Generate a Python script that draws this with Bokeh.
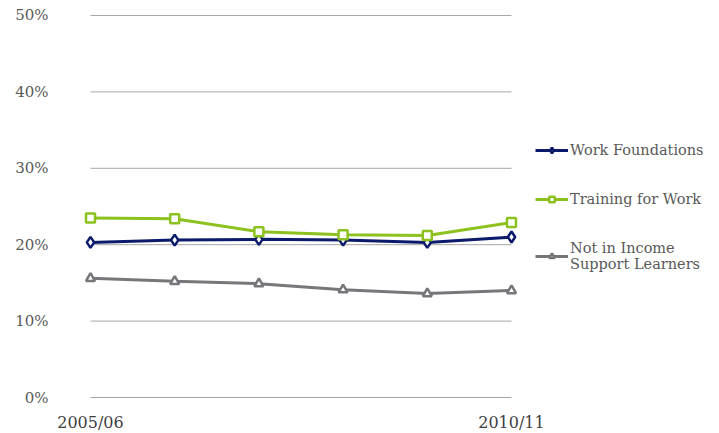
from bokeh.plotting import figure
from bokeh.models import Range1d, FixedTicker, PrintfTickFormatter, Legend, LegendItem
from bokeh.embed import file_html
from bokeh.resources import INLINE

years = ["2005/06", "2006/07", "2007/08", "2008/09", "2009/10", "2010/11"]
work_foundations = [20.3, 20.6, 20.7, 20.6, 20.3, 21.0]
training_for_work = [23.5, 23.4, 21.7, 21.3, 21.2, 22.9]
not_in_income_support = [15.6, 15.2, 14.9, 14.1, 13.6, 14.0]
y_ticks = [0, 10, 20, 30, 40, 50]

xs = list(range(len(years)))
n = len(years) - 1
FONT = "DejaVu Serif"
TXT = "#595959"

# frame extends to the right so the legend sits inside it; gridlines are drawn
# only across the span of years
p = figure(frame_width=620, frame_height=398, min_border_left=83, min_border_top=7,
           min_border_bottom=24, min_border_right=0,
           x_range=Range1d(-0.0831, -0.0831 + 620 / 84.2), y_range=Range1d(-1.047, 51.047),
           output_backend="svg", toolbar_location=None)
p.outline_line_color = None
p.background_fill_color = "white"
p.xgrid.visible = False
p.ygrid.visible = False

p.segment(x0=[0] * len(y_ticks), x1=[n] * len(y_ticks), y0=y_ticks, y1=y_ticks,
          line_color="#a6a6a6", line_width=1)

for ax in (p.xaxis, p.yaxis):
    ax.axis_line_color = None
    ax.major_tick_line_color = None
    ax.minor_tick_line_color = None
    ax.major_tick_out = 0
    ax.major_tick_in = 0
    ax.minor_tick_out = 0
    ax.major_label_text_font = FONT

p.yaxis.ticker = FixedTicker(ticks=y_ticks)
p.yaxis.formatter = PrintfTickFormatter(format="%d%%")
p.yaxis.major_label_standoff = 35
p.yaxis.major_label_text_font_size = "15px"
p.yaxis.major_label_text_color = TXT

p.xaxis.ticker = FixedTicker(ticks=[0, n])
p.xaxis.major_label_overrides = {0: years[0], n: years[-1]}
p.xaxis.major_label_standoff = 7
p.xaxis.major_label_text_font_size = "16px"
p.xaxis.major_label_text_color = "#404040"

series = [
    ("Work Foundations", work_foundations, "#0b1a6b", "diamond", 11),
    ("Training for Work", training_for_work, "#8cc11e", "square", 9),
    ("Not in Income\nSupport Learners", not_in_income_support, "#76777a", "triangle", 9),
]
items = []
for label, vals, color, marker, size in series:
    l = p.line(xs, vals, line_color=color, line_width=3)
    s = p.scatter(xs, vals, marker=marker, size=size, line_color=color, line_width=2.5,
                  fill_color="white")
    items.append(LegendItem(label=label, renderers=[l, s]))

legend = Legend(items=items, location=(452, 133), border_line_color=None,
                background_fill_alpha=0, glyph_width=33, glyph_height=14,
                label_standoff=2, spacing=33, padding=0, margin=0,
                label_text_font=FONT, label_text_font_size="14.5px",
                label_text_color=TXT)
p.add_layout(legend, "center")

open("out.html", "w").write(file_html(p, INLINE))
